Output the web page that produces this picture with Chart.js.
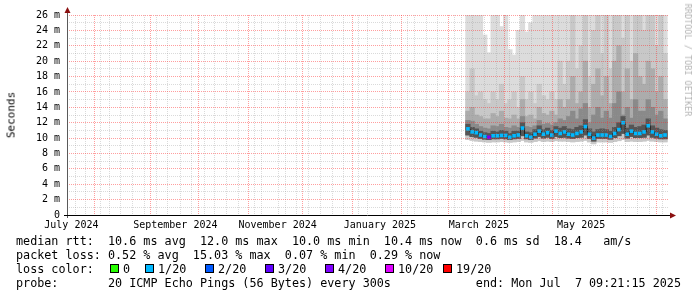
<!DOCTYPE html>
<html>
<head>
<meta charset="utf-8">
<title>Smokeping - last 400 days</title>
<script src="https://cdn.jsdelivr.net/npm/chart.js@4.4.1/dist/chart.umd.min.js"></script>
<style>
    body { margin: 0; background: #fff; }
    #wrap { position: relative; width: 697px; height: 297px; font-family: "DejaVu Sans Mono", monospace; color: #000; overflow: hidden; }
    #chart { position: absolute; left: 0; top: 0; }
    .line { position: absolute; left: 16px; white-space: pre; font-size: 11.75px; line-height: 14px; }
    .rot { position: absolute; white-space: pre; }
    .box { position: absolute; width: 7px; height: 7px; border: 1px solid #000; }
    .lbl { position: absolute; white-space: pre; font-size: 11.75px; line-height: 14px; }
</style>
</head>
<body>
<div id="wrap">
    <canvas id="chart" width="697" height="297"></canvas>
    <div class="rot" style="left:11px; top:115px; font-size:11px; color:#000; transform:translate(-50%,-50%) rotate(-90deg);">Seconds</div>
    <div class="rot" style="left:688px; top:60px; font-size:8.5px; color:#b4b4b4; transform:translate(-50%,-50%) rotate(90deg);">RRDTOOL / TOBI OETIKER</div>
    <div class="line" style="top:234px;">median rtt:  10.6 ms avg  12.0 ms max  10.0 ms min  10.4 ms now  0.6 ms sd  18.4   am/s</div>
    <div class="line" style="top:248px;">packet loss: 0.52 % avg  15.03 % max  0.07 % min  0.29 % now</div>
    <div class="line" style="top:262px;">loss color:</div>
    <div id="lossLegend"></div>
    <div class="line" style="top:276px;">probe:       20 ICMP Echo Pings (56 Bytes) every 300s</div>
    <div class="line" style="top:276px; left:auto; right:16px;">end: Mon Jul  7 09:21:15 2025</div>
</div>

<script>
    // days since 2024-07-01 (one consolidated step = 2.5 days)
    const days = [251.5, 254, 256.5, 259, 261.5, 264, 266.5, 269, 271.5, 274, 276.5, 279,
        281.5, 284, 286.5, 289, 291.5, 294, 296.5, 299, 301.5, 304, 306.5, 309,
        311.5, 314, 316.5, 319, 321.5, 324, 326.5, 329, 331.5, 334, 336.5, 339,
        341.5, 344, 346.5, 349, 351.5, 354, 356.5, 359, 361.5, 364, 366.5, 369];

    // median rtt in ms
    const median = [11.2, 10.8, 10.7, 10.4, 10.2, 10.1, 10.3, 10.3, 10.35, 10.35,
        10.1, 10.3, 10.4, 11.3, 10.3, 10.1, 10.5, 10.9, 10.5, 10.7,
        10.4, 10.9, 10.6, 10.8, 10.5, 10.4, 10.6, 10.8, 11.5, 10.5,
        10.0, 10.4, 10.4, 10.4, 10.2, 10.6, 11.1, 12.0, 10.5, 10.9,
        10.6, 10.6, 10.8, 11.6, 10.8, 10.5, 10.3, 10.4];

    // packet loss in %
    const lossPct = [0.6, 0.4, 0.5, 0.3, 0.8, 15.03, 0.5, 0.4, 0.3, 0.6,
        0.5, 0.4, 0.7, 0.5, 0.3, 0.4, 0.6, 0.5, 0.4, 0.3,
        0.5, 0.6, 0.4, 0.3, 0.5, 0.4, 0.2, 0.3, 0.6, 0.5,
        0.4, 0.3, 0.07, 0.4, 0.5, 0.3, 0.4, 0.6, 0.5, 0.3,
        0.4, 0.5, 0.3, 0.4, 0.6, 0.3, 0.4, 0.29];

    // smoke: spread of the 20 pings, outer to inner (ms)
    const smokeTop = [26, 26, 26, 26, 23.4, 21.1, 26, 26, 24.5, 26, 21.5, 20.8, 24, 26, 23.8, 25,
        26, 26, 26, 26, 26, 26, 26, 26, 26, 26, 26, 26, 26, 26, 26, 26,
        26, 26, 26, 26, 26, 26, 26, 26, 26, 26, 26, 26, 26, 26, 26, 26];
    const smokeHi2 = [16, 19, 15.5, 16, 15, 14.5, 16, 15, 17, 14.5, 15, 16, 14, 18, 15, 16, 14.5, 17, 15.5, 15, 16, 15, 20,
        17, 20, 26, 19, 22, 26, 18, 24, 26, 21, 26, 19, 26, 26, 23, 26, 20, 26, 26, 24, 26, 26, 22, 26, 21];
    const smokeHi3 = [13.5, 14, 13, 12.8, 12.5, 12.5, 13.2, 12.8, 13.5, 12.6, 12.5, 13, 12.5, 15, 12.8, 13, 12.5, 14, 13.2, 13, 13.5, 13, 15,
        14, 15, 18, 14.5, 16, 20, 14, 17, 19, 15.5, 18, 14.5, 20, 22, 16, 19, 15, 21, 18, 17, 20, 19, 16, 18, 15];
    const smokeHi4 = [12.3, 12.2, 11.8, 11.5, 11.3, 11.2, 11.6, 11.5, 11.8, 11.4, 11.3, 11.6, 11.4, 12.8, 11.5, 11.4, 11.6, 12.3, 11.8, 11.9, 11.7, 12, 12.5,
        12.3, 12.8, 13.5, 12.5, 13.8, 14.5, 12, 13, 14, 12.6, 13.5, 12.6, 14.5, 16, 13, 14, 12.6, 15, 13.5, 13.5, 15, 14, 13, 13.5, 12.5];
    const smokeHi5 = [11.8, 11.4, 11.2, 10.9, 10.7, 10.6, 10.9, 10.8, 11, 10.9,
        10.6, 10.9, 10.9, 12, 10.8, 10.7, 11.1, 11.6, 11.1, 11.3,
        11, 11.5, 11.3, 11.5, 11.2, 11.1, 11.4, 11.6, 12.4, 11.2,
        10.8, 11.1, 11.2, 11.1, 10.9, 11.4, 12, 12.8, 11.3, 11.7,
        11.4, 11.5, 11.7, 12.5, 11.6, 11.3, 11.1, 11];
    const smokeLo2 = [10.4, 10.2, 10.1, 9.95, 9.85, 9.8, 9.9, 9.9, 9.95, 9.9,
        9.8, 9.9, 9.95, 10.3, 9.9, 9.8, 10, 10.2, 10, 10.1,
        9.95, 10.2, 10.05, 10.1, 10, 9.95, 10.05, 10.1, 10.4, 9.95,
        9.6, 9.95, 9.95, 9.95, 9.85, 10.05, 10.3, 10.6, 10, 10.2,
        10.05, 10.05, 10.1, 10.4, 10.1, 10, 9.9, 9.9];
    const smokeLo1 = [9.8, 9.7, 9.6, 9.55, 9.5, 9.45, 9.5, 9.5, 9.55, 9.5,
        9.45, 9.5, 9.55, 9.7, 9.5, 9.45, 9.55, 9.65, 9.55, 9.6,
        9.55, 9.65, 9.6, 9.6, 9.55, 9.5, 9.55, 9.6, 9.7, 9.5,
        9.25, 9.5, 9.5, 9.5, 9.45, 9.55, 9.65, 9.8, 9.55, 9.6,
        9.55, 9.55, 9.6, 9.7, 9.6, 9.55, 9.5, 9.5];

    // loss legend
    const lossLabels = ['0', '1/20', '2/20', '3/20', '4/20', '10/20', '19/20'];
    const lossPings = [0, 1, 2, 3, 4, 10, 19];
    const lossColors = ['#26ff00', '#00b8ff', '#0059ff', '#5e00ff', '#7e00ff', '#dd00ff', '#ff0000'];

    // axis labels
    const monthLabels = ['July 2024', 'September 2024', 'November 2024', 'January 2025', 'March 2025', 'May 2025'];
    const yMax = 26;

    // time axis helpers
    const EPOCH = Date.UTC(2024, 6, 1);
    const dayOf = (y, m, d) => (Date.UTC(y, m, d) - EPOCH) / 86400000;
    const xMax = dayOf(2025, 6, 7) + (9 * 3600 + 21 * 60 + 15) / 86400;
    const xMin = xMax - 359;
    const STEP = 2.5;
    const PLOT_W = 697 - 67 - 28;
    const pxPerDay = PLOT_W / (xMax - xMin);

    function lossColor(pct) {
        const pings = pct / 100 * 20;
        for (let i = 0; i < lossPings.length; i++) {
            if (pings <= lossPings[i]) return lossColors[i];
        }
        return lossColors[lossColors.length - 1];
    }

    function band(lo, hi) {
        return days.map((d, i) => ({x: d, y: [lo[i], Math.min(hi[i], yMax)]}));
    }

    const smokeWidth = STEP * pxPerDay + 0.4;
    const smokeBands = [
        {lo: smokeLo1, hi: smokeTop, color: '#dcdcdc'},
        {lo: smokeLo1, hi: smokeHi2, color: '#c8c8c8'},
        {lo: smokeLo2, hi: smokeHi3, color: '#acacac'},
        {lo: smokeLo2, hi: smokeHi4, color: '#8a8a8a'},
        {lo: smokeLo2, hi: smokeHi5, color: '#555555'}
    ];

    const datasets = smokeBands.map((b, i) => ({
        type: 'bar',
        data: band(b.lo, b.hi),
        backgroundColor: b.color,
        borderWidth: 0,
        barThickness: smokeWidth,
        grouped: false,
        order: 20 - i
    }));

    datasets.push({
        type: 'line',
        data: days.map((d, i) => ({x: d, y: median[i]})),
        borderColor: '#202020',
        borderWidth: 1,
        stepped: 'middle',
        pointRadius: 0,
        order: 2
    });

    datasets.push({
        type: 'bar',
        data: days.map((d, i) => ({x: d, y: [median[i] - 0.19, median[i] + 0.19]})),
        backgroundColor: lossPct.map(lossColor),
        borderWidth: 0,
        barThickness: 3,
        grouped: false,
        order: 1
    });

    // x ticks: weekly (minor), month starts (major), mid-month labels
    function buildXTicks() {
        const ticks = [];
        for (let d = dayOf(2024, 6, 14); d < xMax; d += 7) ticks.push({value: d, kind: 'week'});
        for (let m = 7; m <= 18; m++) ticks.push({value: dayOf(2024, m, 1), kind: 'month'});
        monthLabels.forEach((t, i) => ticks.push({value: dayOf(2024, 6 + 2 * i, 16), kind: 'label', text: t}));
        return ticks.sort((a, b) => a.value - b.value);
    }

    const MAJOR = 'rgba(255,40,40,0.45)';
    const MINOR = 'rgba(150,150,150,0.35)';
    const NONE = 'rgba(0,0,0,0)';

    function xGridColor(ctx) {
        const t = ctx.tick;
        if (!t) return NONE;
        return t.kind === 'month' ? MAJOR : t.kind === 'week' ? MINOR : NONE;
    }

    function yGridColor(ctx) {
        const t = ctx.tick;
        if (!t || t.value === 0) return NONE;
        return t.value % 2 ? MINOR : MAJOR;
    }

    const axisArrows = {
        id: 'axisArrows',
        afterDraw(chart) {
            const {ctx, chartArea: a} = chart;
            ctx.save();
            ctx.lineWidth = 1;
            ctx.strokeStyle = '#5a5a5a';
            ctx.beginPath();
            ctx.moveTo(a.left + 0.5, a.bottom + 3);
            ctx.lineTo(a.left + 0.5, a.top - 5);
            ctx.stroke();
            ctx.strokeStyle = '#000';
            ctx.beginPath();
            ctx.moveTo(a.left - 3, a.bottom + 0.5);
            ctx.lineTo(a.right + 2, a.bottom + 0.5);
            ctx.stroke();
            ctx.fillStyle = '#8b1010';
            ctx.beginPath();
            ctx.moveTo(a.left + 0.5, a.top - 8);
            ctx.lineTo(a.left - 2.5, a.top - 2);
            ctx.lineTo(a.left + 3.5, a.top - 2);
            ctx.fill();
            ctx.beginPath();
            ctx.moveTo(a.right + 7, a.bottom + 0.5);
            ctx.lineTo(a.right + 1, a.bottom - 2.5);
            ctx.lineTo(a.right + 1, a.bottom + 3.5);
            ctx.fill();
            ctx.restore();
        }
    };

    Chart.defaults.font.family = '"DejaVu Sans Mono", monospace';
    Chart.defaults.font.size = 10;
    Chart.defaults.color = '#000';

    new Chart(document.getElementById('chart').getContext('2d'), {
        type: 'bar',
        data: {datasets: datasets},
        options: {
            responsive: false,
            animation: false,
            events: [],
            layout: {padding: {left: 0, top: 15, right: 28, bottom: 0}},
            plugins: {legend: {display: false}, tooltip: {enabled: false}},
            scales: {
                x: {
                    type: 'linear',
                    min: xMin,
                    max: xMax,
                    offset: false,
                    afterBuildTicks: scale => { scale.ticks = buildXTicks(); },
                    afterFit: scale => { scale.height = 82; },
                    ticks: {
                        autoSkip: false,
                        maxRotation: 0,
                        padding: 4,
                        callback: (value, index, ticks) => (ticks[index] && ticks[index].text) || ''
                    },
                    grid: {
                        z: 1,
                        drawTicks: false,
                        lineWidth: 1,
                        color: xGridColor
                    },
                    border: {display: false, dash: [1, 1]}
                },
                y: {
                    min: 0,
                    max: yMax,
                    afterBuildTicks: scale => {
                        scale.ticks = [];
                        for (let v = 0; v <= yMax; v++) scale.ticks.push({value: v});
                    },
                    afterFit: scale => { scale.width = 67; },
                    ticks: {
                        autoSkip: false,
                        padding: 7,
                        callback: v => v % 2 ? '' : (v === 0 ? '0' : v + ' m')
                    },
                    grid: {
                        z: 1,
                        drawTicks: false,
                        lineWidth: 1,
                        color: yGridColor
                    },
                    border: {display: false, dash: [1, 1]}
                }
            }
        },
        plugins: [axisArrows]
    });

    // loss colour legend
    const legendX = [123, 158, 218, 278, 338, 398, 456];
    const legend = document.getElementById('lossLegend');
    lossLabels.forEach((t, i) => {
        const box = document.createElement('div');
        box.className = 'box';
        box.style.left = (legendX[i] - 13) + 'px';
        box.style.top = '264px';
        box.style.background = lossColors[i];
        legend.appendChild(box);
        const lbl = document.createElement('div');
        lbl.className = 'lbl';
        lbl.style.left = legendX[i] + 'px';
        lbl.style.top = '262px';
        lbl.textContent = t;
        legend.appendChild(lbl);
    });
</script>
</body>
</html>
